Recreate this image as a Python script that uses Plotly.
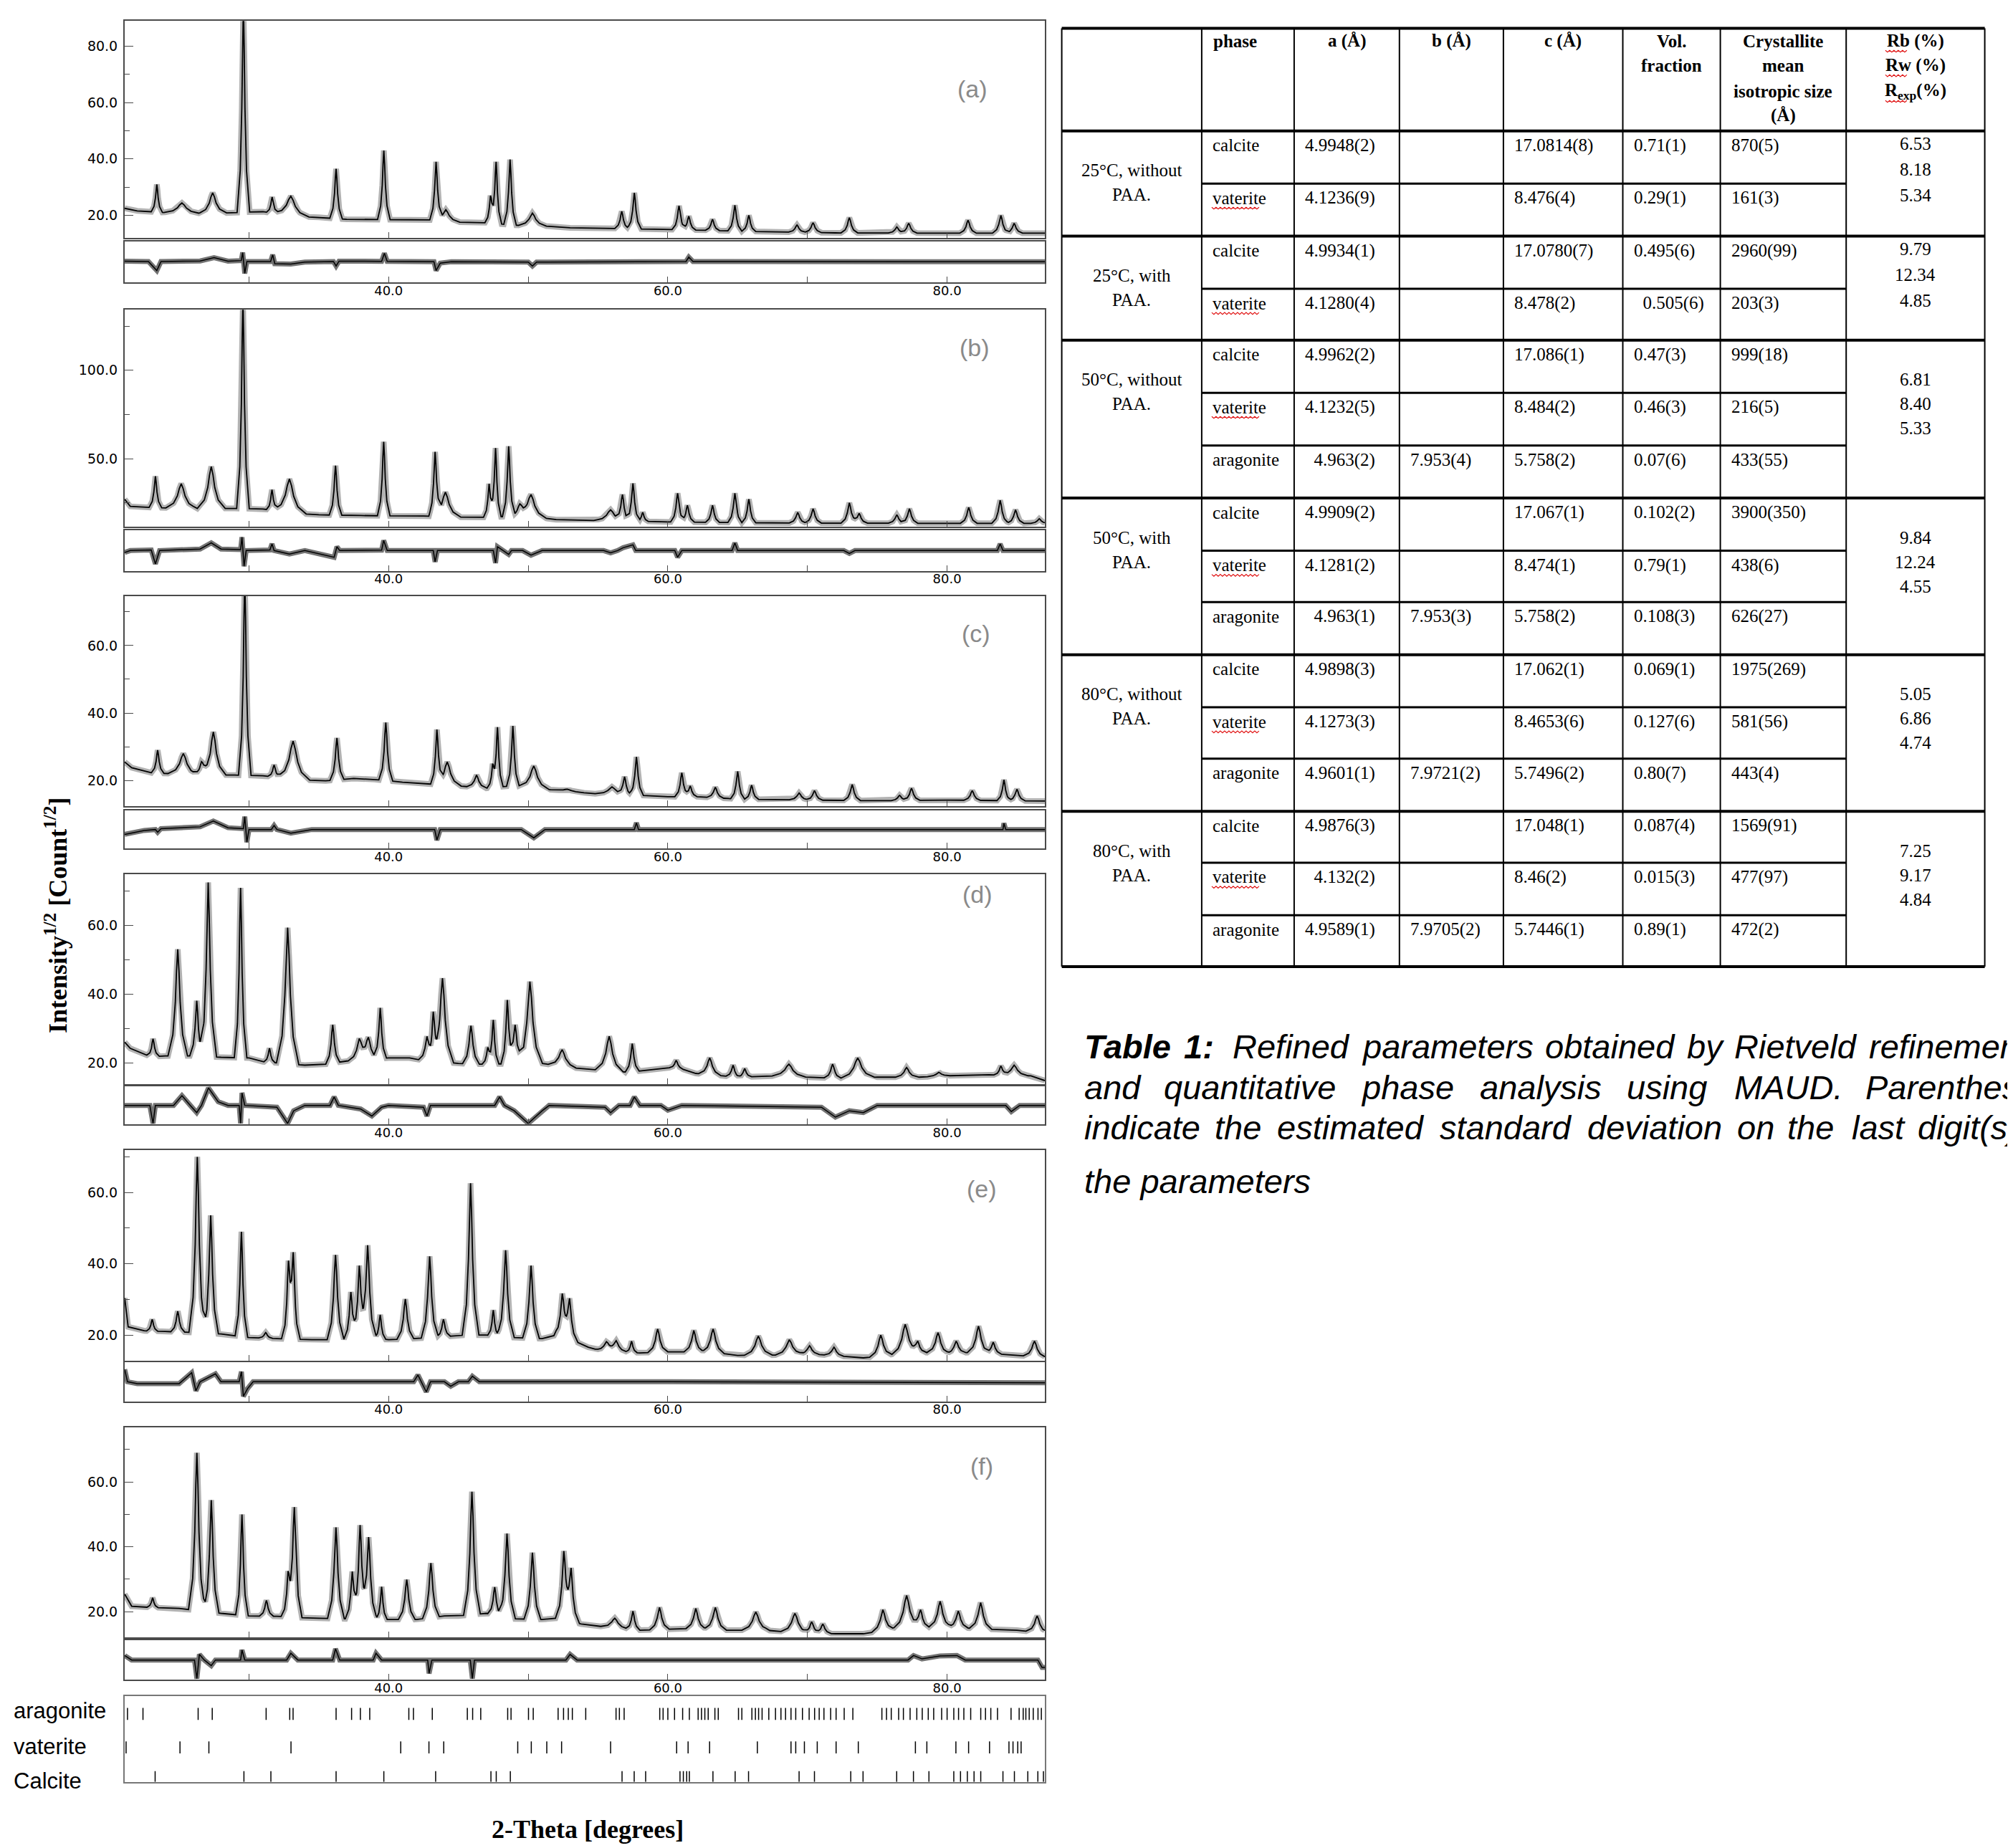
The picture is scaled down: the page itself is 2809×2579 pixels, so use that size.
import numpy as np
import plotly.graph_objects as go

W, H = 2809, 2579
OFF = 8                      # browser body margin
WF, HF = W - OFF, H - OFF
X_RANGE = [21.1, 87.0]

# ------------------------------------------------------------------ DATA
# background anchors (2theta, Intensity^1/2)
bg_a = [(21.1,22.5),(22,21.6),(24,21.0),(27,20.6),(30,21.2),(31,21.3),(33.5,19.6),(35,19.3),(37,18.6),(40,18.5),
        (43,18.4),(45,17.6),(47,17.4),(49,16.5),(51,16.3),(53,15.6),(56,15.4),(59,15.1),(63,14.7),(67,14.2),
        (72,13.8),(80,13.7),(87,13.7)]
bg_b = [(21.1,27),(21.5,23),(23,22.3),(26,21.8),(29,21.8),(31,21.5),(33.5,19.0),(35,18.2),(38,17.8),(40,17.6),
        (42.5,17.5),(45,16.9),(47,16.8),(49,17.4),(51,16.5),(52,15.5),(55,14.9),(58,14.6),(60,14.2),(65,13.8),
        (70,13.5),(80,13.4),(87,13.4)]
bg_c = [(21.1,25.5),(21.6,23.8),(23,22.3),(26,21.7),(29,21.6),(31,21.4),(33.5,20.2),(35.5,19.9),(37.5,20.6),
        (39,20.3),(41,19.5),(45,18.4),(47,17.7),(49,18.5),(51,17.5),(53,16.7),(55,16.0),(58,15.6),(60,15.2),
        (62,15.2),(65,14.5),(70,14.2),(75,14.0),(80,14.2),(87,13.9)]
bg_d = [(21.1,26),(21.5,24.2),(23,21.7),(24,22),(26,22),(28,21.6),(30,21.4),(31,20.3),(34,19.3),(35.5,19.6),
        (37,20.5),(40,21.4),(41.5,21.4),(42.3,20.8),(45,19.8),(46.5,19.6),(51,19.8),(53,18.6),(55,17.9),(57,17.3),
        (58,17.6),(60,18.6),(61,18.2),(62,16.9),(65,15.8),(68,16.2),(70,15.8),(72,15.5),(75,15.8),(78,15.8),
        (80,16.2),(83,16.5),(86,16.2),(87,14.8)]
bg_e = [(21.1,30.4),(21.35,22.3),(22.5,21.2),(24,21),(25.5,20.8),(28,20.3),(30,19.3),(32,19.0),(34.5,18.7),
        (36,18.7),(39,19.2),(40,18.7),(41.8,19.0),(44.5,19.7),(45.5,20.0),(47,20),(49,19.3),(51,19.0),(52,20),
        (53.5,18),(54.3,16.6),(55,15.8),(58,15.0),(60,15.3),(63,15.3),(65,14.3),(68,14.4),(70,14.8),(72,14.2),
        (74,13.6),(76,14.4),(78,15.2),(80,14.8),(82,15.2),(84,14.6),(85,14.3),(87,13.8)]
bg_f = [(21.1,25.4),(21.6,21.7),(23,21.3),(25,21.0),(28,19.5),(30,18.7),(32,18.6),(34.5,18),(35,18),(39,17.6),
        (40,17.6),(42,17.6),(44,18.7),(45,18.7),(47,19.5),(49,17.8),(51,17.6),(52,18),(53.8,16.2),(54.5,15.8),
        (56,15.1),(58,14.3),(60,14.6),(62,14.9),(64,14.3),(67,14.3),(69,13.6),(72,13.2),(74,13.2),(76,14.6),
        (78,15.3),(80,15.3),(83,14.6),(85,14.3),(86.5,13.6),(87,13.6)]

# peaks: (2theta, apex value, half base width)
pk_a = [(23.4,31,0.4),(25.2,24.4,1.3),(27.4,28,1.0),(29.6,95,0.45),(31.66,26.5,0.4),(33.0,26.8,1.3),
        (36.24,36.5,0.45),(39.66,43,0.45),(43.4,38.5,0.45),(44.1,22,1.0),(47.3,27,0.4),(47.7,39,0.4),
        (48.7,39.8,0.45),(50.3,20.8,1.0),(56.7,21.4,0.5),(57.6,28,0.5),(60.8,23.4,0.5),(61.5,19.7,0.5),
        (63.2,18.6,0.5),(64.8,23.6,0.5),(65.8,20,0.5),(69.25,16.6,0.6),(70.4,17.4,0.6),(73.0,19.2,0.6),
        (76.4,15.9,0.6),(77.25,17.2,0.6),(81.5,18.3,0.6),(83.85,20,0.6),(84.8,17.2,0.6)]
pk_b = [(23.3,40,0.45),(25.15,35.8,1.1),(27.3,45.5,1.0),(29.57,140,0.45),(31.65,32.4,0.4),(32.9,38.5,1.2),
        (36.2,46,0.45),(39.65,59.5,0.45),(43.33,52,0.45),(44.07,31,1.1),(47.2,35.8,0.4),(47.66,56,0.4),
        (48.6,57,0.45),(49.4,23,0.8),(50.2,29.7,1.1),(55.9,21,1.2),(56.75,29,0.5),(57.5,36,0.5),(58.2,19.6,0.4),
        (60.7,30.4,0.5),(61.4,23.6,0.5),(63.2,23.6,0.5),(64.8,30.4,0.5),(65.8,27,0.5),(69.3,19.6,0.6),
        (70.4,21.6,0.6),(73.0,25,0.6),(73.7,19,0.6),(76.4,18.2,0.6),(77.3,21.6,0.6),(81.55,22.3,0.6),
        (83.8,26.4,0.6),(84.9,21,0.6),(86.6,16,0.6)]
pk_c = [(23.46,29,0.45),(25.3,28,1.1),(26.6,25.3,0.6),(27.45,34.4,0.9),(29.7,80,0.45),(31.8,24.6,0.45),
        (33.16,31.7,1.2),(36.3,32.6,0.5),(39.8,37.2,0.5),(43.46,34.4,0.45),(44.2,25.5,1.0),(46.3,21.6,0.7),
        (47.45,24.1,0.4),(47.8,35.5,0.4),(48.9,36.2,0.45),(50.4,24.3,1.1),(52.8,17.4,1.2),(56.0,18.1,1.2),
        (56.9,20.9,0.5),(57.75,27,0.5),(61.0,22.3,0.5),(61.6,18.4,0.5),(63.4,18,0.6),(65.0,22.7,0.5),
        (66.0,18.6,0.5),(69.4,16.3,0.7),(70.5,17,0.6),(73.2,18.8,0.6),(76.6,15.6,0.6),(77.45,17.7,0.6),
        (81.8,17,0.6),(84.07,20.2,0.5),(85.0,17.4,0.6)]
pk_d = [(23.13,27,0.45),(24.9,53.1,0.7),(26.26,38.1,0.5),(27.08,72.6,0.6),(29.4,71,0.45),(31.47,24.2,0.4),
        (32.77,59.4,0.8),(36.0,31.1,0.5),(37.9,26.6,0.8),(38.55,27,0.8),(39.4,36,0.45),(42.75,27.7,0.6),
        (43.2,32.5,0.4),(43.86,44.7,0.8),(45.9,30.8,0.6),(47.1,24.5,0.4),(47.5,32.5,0.4),(48.5,38,0.45),
        (49.06,31.1,0.6),(50.12,43.7,0.9),(52.43,23.8,1.0),(55.8,27.7,1.0),(57.45,25.6,0.5),(60.6,20.7,0.5),
        (63.0,21.4,0.8),(64.67,19.3,0.5),(65.5,18.3,0.5),(68.67,19.6,1.2),(71.8,19.6,0.6),(73.6,21.4,1.2),
        (77.1,18.6,0.8),(79.4,17.2,0.8),(83.85,19,0.5),(84.8,19.3,1.0)]
pk_e = [(23.07,24.4,0.4),(24.9,26.7,0.5),(26.3,70,0.6),(27.26,53.6,0.55),(29.46,49,0.45),(31.2,20.7,0.5),
        (32.83,38.1,0.5),(33.17,40.8,0.5),(36.2,42.5,0.6),(37.3,32.1,0.5),(37.9,39.5,0.5),(38.5,45.2,0.6),
        (39.4,25.7,0.4),(41.2,30.1,0.6),(42.94,42.1,0.6),(43.93,24.4,0.5),(45.87,62.6,0.6),(47.5,27,0.4),
        (48.38,43.8,0.6),(50.2,39.5,0.6),(52.44,31.1,0.6),(52.96,29.7,0.6),(55.6,18,0.8),(56.3,18.3,0.8),
        (57.4,18.3,0.4),(59.27,21.7,0.7),(61.86,21.3,0.7),(63.24,21.7,0.8),(66.48,19.7,1.0),(68.7,18.7,1.0),
        (70.15,17,0.7),(71.9,16.6,0.7),(75.25,20,0.8),(77.0,23,1.0),(77.9,18,0.6),(79.35,20.7,0.8),
        (80.65,18.3,0.7),(82.25,22.5,0.8),(83.3,18,0.6),(86.26,18.3,0.8)]
pk_f = [(23.1,24.3,0.4),(26.27,69,0.6),(27.3,54.4,0.55),(29.5,50,0.45),(31.25,23.5,0.5),(32.8,30.1,0.5),
        (33.25,51.8,0.55),(36.23,46,0.6),(37.4,32.4,0.5),(37.96,46.7,0.5),(38.57,43,0.6),(39.5,27.7,0.4),
        (41.3,29.9,0.6),(43.03,35,0.6),(45.97,57,0.6),(47.6,27.6,0.5),(48.48,44.1,0.6),(50.3,38.2,0.6),
        (52.55,37.9,0.6),(53.07,32.4,0.6),(56.2,18,1.0),(57.5,20.2,0.5),(59.4,21.3,0.7),(62.0,21,0.7),
        (63.4,21.3,0.8),(66.3,19.9,1.0),(69.1,19.5,1.0),(70.3,16.9,0.6),(71.1,16.2,0.6),(75.4,20.6,0.8),
        (77.1,25,1.0),(78.1,20.6,0.6),(79.5,23.2,0.8),(80.8,20.2,0.7),(82.4,22.8,0.8),(86.45,18.7,0.8)]

# residuals (obs - calc), in units of the residual box half-height / 10
res_a = [(21.1,0.5),(22.8,0.3),(23.4,-4.4),(23.7,0.3),(26.5,0.6),(27.5,2.3),(28.5,0.5),(29.45,0.8),(29.55,5),
         (29.7,-5.9),(29.85,0.3),(31.55,0.3),(31.7,3.8),(31.85,-0.8),(33,-1),(34,0),(36.05,0.3),(36.24,-2),
         (36.45,0.5),(39.5,0.4),(39.7,4.6),(39.9,0.4),(43.25,0.2),(43.4,-4.4),(43.7,-0.5),(44.5,0.2),(50,0),
         (50.3,-2),(50.6,0),(61.3,0.3),(61.5,2.6),(61.8,0.3),(87,0.2)]
res_b = [(21.1,-1),(21.5,0),(23.0,0.3),(23.3,-7),(23.6,0),(26.5,0.8),(27.3,4),(28,0.8),(29.4,0.5),(29.5,7),
         (29.65,-8.2),(29.8,0),(31.5,0.3),(31.65,3.5),(31.8,0),(32.9,-1.8),(34,0),(36.1,-3.5),(36.3,2),(36.5,0),
         (39.5,0.2),(39.65,5.3),(39.9,0),(43.2,0),(43.33,-5.9),(43.5,0),(47.5,0),(47.66,-6.5),(47.8,2),(48.6,-2),
         (48.8,0),(49.6,0),(50.2,-2.4),(51,0),(55.4,0),(55.9,-1.2),(56.4,0),(56.8,1.5),(57.5,3),(57.7,0),
         (60.5,0),(60.7,-3.5),(61,0),(64.6,0),(64.8,4),(65,0),(72.6,0),(73,-1.5),(73.4,0),(83.6,0),(83.8,3.5),
         (84,0),(87,0)]
res_c = [(21.1,-2.7),(22.5,-0.5),(23.3,0),(23.46,-1.5),(23.7,0.5),(26.5,1.5),(27.45,4.7),(28.5,1),(29.6,0.5),
         (29.7,7.2),(29.85,-7.1),(30,0),(31.6,0),(31.8,2.2),(32,0),(33,-2),(34.5,0),(43.3,0),(43.46,-5.9),
         (43.7,0),(49.5,0),(50.4,-4.6),(51.2,0),(57.6,0),(57.75,3.7),(57.9,0),(84,0),(84.07,3.5),(84.2,0),(87,0)]
res_d = [(21.1,0),(22.9,0),(23.13,-10),(23.3,0),(24.6,0),(25.2,5.4),(25.8,0),(26.26,-4),(26.6,0),(27.1,9.7),
         (27.8,2),(28.5,0),(29.3,0),(29.4,-10),(29.5,7),(29.7,0),(32,-1),(32.77,-10),(33.2,-3),(34,0),
         (35.8,0),(36.1,4.7),(36.4,0),(38,-2),(38.8,-5.9),(39.5,-1),(40,0),(42.5,-1),(42.75,-5.9),(43,0),
         (47.6,0),(47.95,4.7),(48.3,0),(49,-3),(50.0,-10),(51,-3),(51.5,0),(55.5,-1),(55.9,-4),(56.5,0),
         (57.3,0),(57.6,4.7),(58,0),(59.5,0),(60,-2.7),(61,0),(71,-1),(72,-6.5),(73,-3),(74,-4),(75,0),
         (84.2,0),(84.6,-3.4),(85.2,0),(87,0)]
res_e = [(21.1,6.7),(21.3,0),(22,-1),(25,-1),(25.9,4.9),(26.2,-4.9),(26.5,0),(27.6,4.3),(28,0),(29.3,0),
         (29.46,5.5),(29.6,-7.9),(29.9,-3.7),(30.3,0),(41.8,0),(42.1,3.7),(42.7,-5.5),(43,0),(44.0,0),
         (44.45,-2.4),(45,0),(45.7,0),(46,3),(46.5,0),(60,0),(87,-0.5)]
res_f = [(21.1,2.4),(21.6,0),(26.1,0),(26.27,-10),(26.45,3),(26.8,0),(27.3,-3),(27.6,0),(29.4,0),(29.5,5.4),
         (29.7,0),(32.7,0),(33,3.6),(33.5,0),(36.0,0),(36.2,6),(36.5,0),(38.9,0),(39.1,3.6),(39.5,0),(42.8,0),
         (42.9,-7.2),(43.1,0),(45.85,0),(46.0,-10),(46.15,0),(52.7,0),(53,3),(53.5,0),(77.2,0),(77.6,2.4),
         (78.2,0.6),(79.5,2.2),(80.7,2.4),(81.3,0),(86.5,0),(86.8,-4),(87,-4)]

panel_labels = ["(a)", "(b)", "(c)", "(d)", "(e)", "(f)"]

# Bragg reflection positions (2theta)
ticks_aragonite = [21.3,22.41,26.36,27.37,31.23,32.92,33.16,36.24,37.35,37.98,38.65,41.45,41.78,43.13,45.64,46.02,
                   46.6,48.53,48.77,50.02,50.36,52.14,52.53,52.87,53.16,54.12,56.29,56.53,56.87,59.42,59.66,60.0,
                   60.48,61.06,61.54,62.17,62.41,62.65,62.89,63.37,63.61,65.06,65.3,66.02,66.27,66.5,66.75,67.23,
                   67.71,68.1,68.43,68.82,69.16,69.64,70.12,70.51,70.84,71.18,71.66,72.05,72.63,73.25,75.33,75.66,
                   76.0,76.53,76.87,77.35,77.83,78.22,78.65,79.04,79.61,80.0,80.48,80.82,81.2,81.69,82.41,82.75,
                   83.13,83.61,84.58,85.16,85.45,85.64,85.88,86.17,86.51,86.75]
ticks_vaterite = [21.2,25.06,27.13,33.01,40.87,42.89,43.95,49.25,50.22,51.33,52.39,55.9,60.63,61.45,62.99,66.41,
                  68.82,69.16,69.78,70.7,72.05,73.64,77.73,78.55,80.63,81.54,83.04,84.43,84.72,85.06,85.3]
ticks_calcite = [23.28,29.64,31.57,36.24,39.66,43.37,47.33,47.71,48.72,56.72,57.59,58.41,60.87,61.11,61.35,61.54,
                 63.23,64.82,65.78,69.4,70.5,73.1,73.98,76.39,77.59,78.7,80.48,80.96,81.45,81.93,82.41,84.0,
                 84.82,85.78,86.5,86.9]
phase_names = ["aragonite", "vaterite", "Calcite"]

x_label_vals = [40, 60, 80]
y_title = "<b>Intensity<sup>1/2</sup> [Count<sup>1/2</sup>]</b>"
x_title = "<b>2-Theta [degrees]</b>"

# table content
tbl_header = [[], ["phase"], ["a (Å)"], ["b (Å)"], ["c (Å)"], ["Vol.", "fraction"],
              ["Crystallite", "mean", "isotropic size", "(Å)"], ["Rb (%)", "Rw (%)", "R<sub>exp</sub>(%)"]]
grp_line1 = ["25°C, without", "25°C, with", "50°C, without", "50°C, with", "80°C, without", "80°C, with"]
grp_line2 = ["PAA.", "PAA.", "PAA.", "PAA.", "PAA.", "PAA."]
grp_nrows = [2, 2, 3, 3, 3, 3]
col_phase = ["calcite","vaterite","calcite","vaterite","calcite","vaterite","aragonite","calcite","vaterite",
             "aragonite","calcite","vaterite","aragonite","calcite","vaterite","aragonite"]
col_a = ["4.9948(2)","4.1236(9)","4.9934(1)","4.1280(4)","4.9962(2)","4.1232(5)"," 4.963(2)","4.9909(2)",
         "4.1281(2)"," 4.963(1)","4.9898(3)","4.1273(3)","4.9601(1)","4.9876(3)"," 4.132(2)","4.9589(1)"]
col_b = ["","","","","","","7.953(4)","","","7.953(3)","","","7.9721(2)","","","7.9705(2)"]
col_c = ["17.0814(8)","8.476(4)","17.0780(7)","8.478(2)","17.086(1)","8.484(2)","5.758(2)","17.067(1)",
         "8.474(1)","5.758(2)","17.062(1)","8.4653(6)","5.7496(2)","17.048(1)","8.46(2)","5.7446(1)"]
col_vol = ["0.71(1)","0.29(1)","0.495(6)"," 0.505(6)","0.47(3)","0.46(3)","0.07(6)","0.102(2)","0.79(1)",
           "0.108(3)","0.069(1)","0.127(6)","0.80(7)","0.087(4)","0.015(3)","0.89(1)"]
col_size = ["870(5)","161(3)","2960(99)","203(3)","999(18)","216(5)","433(55)","3900(350)","438(6)","626(27)",
            "1975(269)","581(56)","443(4)","1569(91)","477(97)","472(2)"]
grp_R = [("6.53","8.18","5.34"),("9.79","12.34","4.85"),("6.81","8.40","5.33"),
         ("9.84","12.24","4.55"),("5.05","6.86","4.74"),("7.25","9.17","4.84")]

cap_line1 = ["<b>Table</b>", "<b>1:</b>", "Refined", "parameters", "obtained", "by", "Rietveld", "refinement"]
cap_line2 = ["and", "quantitative", "phase", "analysis", "using", "MAUD.", "Parentheses"]
cap_line3 = ["indicate", "the", "estimated", "standard", "deviation", "on", "the", "last", "digit(s)", "of"]
cap_line4 = ["the parameters"]

# ------------------------------------------------------------------ LAYOUT GEOMETRY (target pixels)
PX_LEFT, PX_RIGHT = 174, 1458
main_top = [29.3, 432.3, 831.7, 1220, 1605, 1991.7]
main_bot = [331.7, 735, 1125, 1513.3, 1899, 2285]
res_top = [337.3, 740, 1131, 1516, 1901, 2289]
res_bot = [394.3, 796.7, 1184.3, 1569.3, 1955.7, 2344.3]
y_ranges = [[12.1, 88.9], [11.5, 134.2], [12.4, 74.7], [13.7, 75.0], [12.8, 71.9], [12.1, 76.9]]
y_dtick = [20, 50, 20, 20, 20, 20]
y_minor = [10, 25, 10, 10, 10, 10]
lab_pos = [(1357, 124), (1360, 485), (1362, 884), (1364, 1248), (1370, 1659), (1370, 2046)]
tick_box = (2366.7, 2486.7)

def px(xp):
    return (xp - OFF) / WF

def py(yp):
    return 1 - (yp - OFF) / HF

OFFS = np.array([-1, -0.5, -0.25, -0.125, 0, 0.125, 0.25, 0.5, 1.0])
FRAC = np.array([0, 0.2, 0.5, 0.8, 1, 0.8, 0.5, 0.2, 0])

def profile(bg, peaks):
    bx = np.array([p[0] for p in bg], float)
    by = np.array([p[1] for p in bg], float)
    pts = set(bx.tolist())
    for pos, top, w in peaks:
        pts.update((pos + OFFS * w).tolist())
    gx = np.array(sorted(p for p in pts if X_RANGE[0] <= p <= X_RANGE[1]))
    gy = np.interp(gx, bx, by)
    for pos, top, w in peaks:
        amp = top - np.interp(pos, bx, by)
        gy = gy + amp * np.interp(gx, pos + OFFS * w, FRAC, left=0, right=0)
    return gx, gy

def ref(n, axis):
    return axis if n == 1 else f"{axis}{n}"

def key(n, axis):
    return f"{axis}axis" if n == 1 else f"{axis}axis{n}"

try:
    go.layout.XAxis(ticklabelstandoff=-6)
    XSTAND = -6
except Exception:
    XSTAND = 0

fig = go.Figure()
layout = dict(width=WF, height=HF, margin=dict(l=0, r=0, t=0, b=0), autosize=False,
              paper_bgcolor="white", plot_bgcolor="white", showlegend=False)

AXC = "#4a4a4a"
YTICKFONT = dict(family="DejaVu Sans", size=19, color="black")
XTICKFONT = dict(family="DejaVu Sans", size=18, color="black")
bgs = [bg_a, bg_b, bg_c, bg_d, bg_e, bg_f]
pks = [pk_a, pk_b, pk_c, pk_d, pk_e, pk_f]
ress = [res_a, res_b, res_c, res_d, res_e, res_f]

annotations = []
shapes = []

for i in range(6):
    nm, nr = 2 * i + 1, 2 * i + 2
    gx, gy = profile(bgs[i], pks[i])
    fig.add_trace(go.Scatter(x=gx, y=gy, mode="lines", line=dict(color="rgba(0,0,0,0.30)", width=8),
                             xaxis=ref(nm, "x"), yaxis=ref(nm, "y"), hoverinfo="skip"))
    fig.add_trace(go.Scatter(x=gx, y=gy, mode="lines", line=dict(color="black", width=1.8),
                             xaxis=ref(nm, "x"), yaxis=ref(nm, "y")))
    rx = [p[0] for p in ress[i]]
    ry = [p[1] for p in ress[i]]
    fig.add_trace(go.Scatter(x=rx, y=ry, mode="lines", line=dict(color="rgba(0,0,0,0.55)", width=7),
                             xaxis=ref(nr, "x"), yaxis=ref(nr, "y"), hoverinfo="skip"))
    fig.add_trace(go.Scatter(x=rx, y=ry, mode="lines", line=dict(color="black", width=1.5),
                             xaxis=ref(nr, "x"), yaxis=ref(nr, "y")))
    common_x = dict(domain=[px(PX_LEFT), px(PX_RIGHT)], range=X_RANGE, showline=True, mirror=True,
                    linecolor=AXC, linewidth=2, ticks="inside", tickvals=x_label_vals, ticklen=8,
                    tickcolor=AXC, showgrid=False, zeroline=False,
                    minor=dict(dtick=10, tick0=0, ticks="inside", ticklen=8, tickcolor=AXC))
    layout[key(nm, "x")] = dict(common_x, anchor=ref(nm, "y"), showticklabels=False)
    layout[key(nr, "x")] = dict(common_x, anchor=ref(nr, "y"), showticklabels=True, tickformat=".1f",
                                tickfont=XTICKFONT, ticklabelstandoff=XSTAND)
    layout[key(nm, "y")] = dict(domain=[py(main_bot[i]), py(main_top[i])], range=y_ranges[i], anchor=ref(nm, "x"),
                                showline=True, mirror=True, linecolor=AXC, linewidth=2, ticks="inside",
                                ticklen=12, tickcolor=AXC, tick0=0, dtick=y_dtick[i], tickformat=".1f",
                                tickfont=YTICKFONT, ticklabelstandoff=4,
                                minor=dict(dtick=y_minor[i], tick0=0, ticks="inside", ticklen=7, tickcolor=AXC),
                                showgrid=False, zeroline=False)
    layout[key(nr, "y")] = dict(domain=[py(res_bot[i]), py(res_top[i])], range=[-10.6, 10.6], anchor=ref(nr, "x"),
                                showline=True, mirror=True, linecolor=AXC, linewidth=2, ticks="",
                                showticklabels=False, showgrid=False, zeroline=False)
    annotations.append(dict(x=px(lab_pos[i][0]), y=py(lab_pos[i][1]), xref="paper", yref="paper",
                            text=panel_labels[i], showarrow=False, xanchor="center", yanchor="middle",
                            font=dict(family="Liberation Sans", size=34, color="#8a8a8a")))

# reflection tick panel
NT = 13
rows_y = [(0.72, 0.86), (0.33, 0.47), (0.0, 0.125)]
for lst, (y0, y1) in zip([ticks_aragonite, ticks_vaterite, ticks_calcite], rows_y):
    xs, ys = [], []
    for t in lst:
        xs += [t, t, None]
        ys += [y0, y1, None]
    fig.add_trace(go.Scatter(x=xs, y=ys, mode="lines", line=dict(color="black", width=1.5),
                             xaxis=ref(NT, "x"), yaxis=ref(NT, "y")))
layout[key(NT, "x")] = dict(domain=[px(PX_LEFT), px(PX_RIGHT)], range=X_RANGE, anchor=ref(NT, "y"),
                            showline=True, mirror=True, linecolor="#777", linewidth=2, ticks="",
                            showticklabels=False, showgrid=False, zeroline=False)
layout[key(NT, "y")] = dict(domain=[py(tick_box[1]), py(tick_box[0])], range=[0, 1], anchor=ref(NT, "x"),
                            showline=True, mirror=True, linecolor="#777", linewidth=2, ticks="",
                            showticklabels=False, showgrid=False, zeroline=False)
for name, yy in zip(phase_names, [2387, 2437, 2485]):
    annotations.append(dict(x=px(17), y=py(yy), xref="paper", yref="paper", text=name, showarrow=False,
                            xanchor="left", yanchor="middle",
                            font=dict(family="Liberation Sans", size=31, color="black")))

# axis titles
annotations.append(dict(x=px(78), y=py(1278), xref="paper", yref="paper", text=y_title, textangle=-90,
                        showarrow=False, xanchor="center", yanchor="middle",
                        font=dict(family="Liberation Serif", size=36, color="black")))
annotations.append(dict(x=px(820), y=py(2553), xref="paper", yref="paper", text=x_title,
                        showarrow=False, xanchor="center", yanchor="middle",
                        font=dict(family="Liberation Serif", size=36, color="black")))

# ------------------------------------------------------------------ TABLE
col_edges = [1481.6, 1676.9, 1805.9, 1952.8, 2097.9, 2264.5, 2400.6, 2576.2, 2769.6]
row_edges = [39.4, 182.7, 256.2, 329.6, 403.1, 474.7, 548.2, 621.7, 695.1, 768.6, 840.2, 913.7, 987.1,
             1058.8, 1132.2, 1203.9, 1277.3, 1349.0]
TF = dict(family="Liberation Serif", size=25, color="black")

def hline(x0, x1, y, w):
    shapes.append(dict(type="line", xref="paper", yref="paper", x0=px(x0), x1=px(x1), y0=py(y), y1=py(y),
                       line=dict(color="black", width=w)))

def vline(x, y0, y1, w):
    shapes.append(dict(type="line", xref="paper", yref="paper", x0=px(x), x1=px(x), y0=py(y0), y1=py(y1),
                       line=dict(color="black", width=w)))

def txt(x, y, s, anchor="left", font=TF):
    annotations.append(dict(x=px(x), y=py(y), xref="paper", yref="paper", text=s, showarrow=False,
                            xanchor=anchor, yanchor="middle", font=font))

for c in col_edges:
    vline(c, row_edges[0], row_edges[-1], 2)
group_start = [1]
for n in grp_nrows:
    group_start.append(group_start[-1] + n)
hline(col_edges[0], col_edges[-1], row_edges[0], 4)
for gs in group_start:
    hline(col_edges[0], col_edges[-1], row_edges[gs], 4)
for g in range(6):
    for r in range(group_start[g] + 1, group_start[g + 1]):
        hline(col_edges[1], col_edges[7], row_edges[r], 3)

hdr_y = [57.3, 91.4, 127.2, 161.2]
for c, lines in enumerate(tbl_header):
    for k, s in enumerate(lines):
        if c == 1:
            txt(col_edges[1] + 14, hdr_y[k], f"<b>{s}</b>", "left")
        else:
            txt((col_edges[c] + col_edges[c + 1]) / 2, hdr_y[k], f"<b>{s}</b>", "center")

cols = [col_phase, col_a, col_b, col_c, col_vol, col_size]
for r in range(16):
    top = row_edges[1 + r]
    for c, colv in enumerate(cols):
        s = colv[r]
        if s:
            txt(col_edges[c + 1] + 13, top + 20, s.replace(" ", "&nbsp;&nbsp;"), "left")
for g in range(6):
    top = row_edges[group_start[g]]
    cx0 = (col_edges[0] + col_edges[1]) / 2
    txt(cx0, top + 55, grp_line1[g], "center")
    txt(cx0, top + 89, grp_line2[g], "center")
    offs = [18, 54, 90] if grp_nrows[g] == 2 else [55, 89, 123]
    cx7 = (col_edges[7] + col_edges[8]) / 2
    for k in range(3):
        txt(cx7, top + offs[k], grp_R[g][k], "center")

def squiggle(x0, length, y, color):
    path = f"M {px(x0)} {py(y)}"
    k, xx = 0, x0
    while xx < x0 + length:
        xx += 3
        k += 1
        path += f" L {px(xx)} {py(y + (2.5 if k % 2 else 0))}"
    shapes.append(dict(type="path", xref="paper", yref="paper", path=path, line=dict(color=color, width=1.2)))

for r in range(16):
    if col_phase[r] == "vaterite":
        squiggle(col_edges[1] + 14, 64, row_edges[1 + r] + 33, "#e01010")
cx7 = (col_edges[7] + col_edges[8]) / 2
for k in range(3):
    squiggle(cx7 - 42, 30, hdr_y[k] + 13, "#e01010")

# ------------------------------------------------------------------ CAPTION (justified lines)
cap_x1 = [1511, 1650, 1718, 1898, 2154, 2352, 2418, 2606]
cap_x2 = [1511, 1622, 1897, 2063, 2268, 2418, 2601]
cap_x3 = [1511, 1693, 1780, 2007, 2213, 2422, 2492, 2582, 2674, 2860]
cap_x4 = [1511]
CF = dict(family="Liberation Sans", size=47, color="black")
for words, xs, yy in [(cap_line1, cap_x1, 1460), (cap_line2, cap_x2, 1517),
                      (cap_line3, cap_x3, 1573), (cap_line4, cap_x4, 1648)]:
    for wtxt, xx in zip(words, xs):
        if xx >= W:
            continue
        annotations.append(dict(x=px(xx), y=py(yy), xref="paper", yref="paper", text=f"<i>{wtxt}</i>",
                                showarrow=False, xanchor="left", yanchor="middle", font=CF))

layout["annotations"] = annotations
layout["shapes"] = shapes
fig.update_layout(**layout)
fig.write_html("out.html")
